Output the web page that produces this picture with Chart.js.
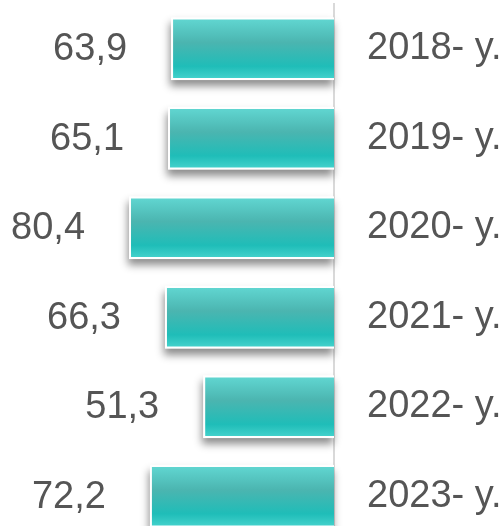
<!DOCTYPE html>
<html>
<head>
<meta charset="utf-8">
<script src="https://cdn.jsdelivr.net/npm/chart.js@4/dist/chart.umd.min.js"></script>
<style>
  html, body { margin: 0; padding: 0; background: #fff; overflow: hidden; }
  #wrap { width: 503px; height: 541px; }
</style>
</head>
<body>
<div id="wrap"><canvas id="myChart" width="503" height="541"></canvas></div>
<script>
// data
const years = ['2018- y.', '2019- y.', '2020- y.', '2021- y.', '2022- y.', '2023- y.'];
const values = [63.9, 65.1, 80.4, 66.3, 51.3, 72.2];
const valueLabels = ['63,9', '65,1', '80,4', '66,3', '51,3', '72,2'];

const textColor = '#555555';
const fontSize = 38;
const barPct = 0.7;

function barGradient(c) {
    const chart = c.chart;
    const yScale = chart.scales.y;
    if (!yScale || c.dataIndex === undefined) return '#2cbcb6';
    const mid = yScale.getPixelForValue(c.dataIndex);
    const h = (yScale.height / years.length) * barPct;
    if (!isFinite(mid) || !isFinite(h) || h <= 0) return '#2cbcb6';
    const g = chart.ctx.createLinearGradient(0, mid - h / 2, 0, mid + h / 2);
    g.addColorStop(0, '#62d8d3');
    g.addColorStop(0.4, '#4bb5b0');
    g.addColorStop(0.78, '#1fbdb8');
    g.addColorStop(1, '#48d4ce');
    return g;
}

// shadow under each bar
const shadowPlugin = {
    id: 'barShadow',
    beforeDatasetsDraw(chart) {
        const ctx = chart.ctx;
        const meta = chart.getDatasetMeta(0);
        ctx.save();
        ctx.shadowColor = 'rgba(0,0,0,0.45)';
        ctx.shadowBlur = 8;
        ctx.shadowOffsetY = 6;
        ctx.shadowOffsetX = -1;
        ctx.fillStyle = '#ffffff';
        meta.data.forEach(function (bar) {
            const p = bar.getProps(['x', 'y', 'base', 'height'], true);
            const left = Math.min(p.x, p.base);
            const w = Math.abs(p.base - p.x);
            ctx.fillRect(left, p.y - p.height / 2, w, p.height);
        });
        ctx.restore();
    }
};

// value labels left of bars
const valuePlugin = {
    id: 'valueLabels',
    afterDatasetsDraw(chart) {
        const ctx = chart.ctx;
        const meta = chart.getDatasetMeta(0);
        ctx.save();
        ctx.font = fontSize + 'px "Liberation Sans", Arial, sans-serif';
        ctx.fillStyle = textColor;
        ctx.textAlign = 'right';
        ctx.textBaseline = 'middle';
        meta.data.forEach(function (bar, i) {
            const p = bar.getProps(['x', 'y'], true);
            ctx.fillText(valueLabels[i], p.x - 44, p.y + 1);
        });
        ctx.restore();
    }
};

const ctx = document.getElementById('myChart');

new Chart(ctx, {
    type: 'bar',
    data: {
        labels: years,
        datasets: [{
            data: values,
            backgroundColor: barGradient,
            borderColor: '#ffffff',
            borderWidth: 2,
            categoryPercentage: 1,
            barPercentage: barPct
        }]
    },
    options: {
        indexAxis: 'y',
        responsive: false,
        animation: false,
        layout: { padding: { top: 4, left: 0, right: 0, bottom: 0 } },
        plugins: {
            legend: { display: false },
            tooltip: { enabled: false }
        },
        scales: {
            x: {
                display: false,
                reverse: true,
                min: 0,
                max: 131
            },
            y: {
                position: 'right',
                grid: { display: false, drawTicks: false },
                border: { display: true, color: '#d9d9d9', width: 2 },
                ticks: {
                    color: textColor,
                    padding: 33,
                    font: { family: '"Liberation Sans", Arial, sans-serif', size: fontSize }
                },
                afterFit(axis) {
                    axis.width = 169;
                    axis.paddingTop = 0;   // tick padding would push the plot down
                    axis.paddingBottom = 0;
                }
            }
        }
    },
    plugins: [shadowPlugin, valuePlugin]
});
</script>
</body>
</html>
